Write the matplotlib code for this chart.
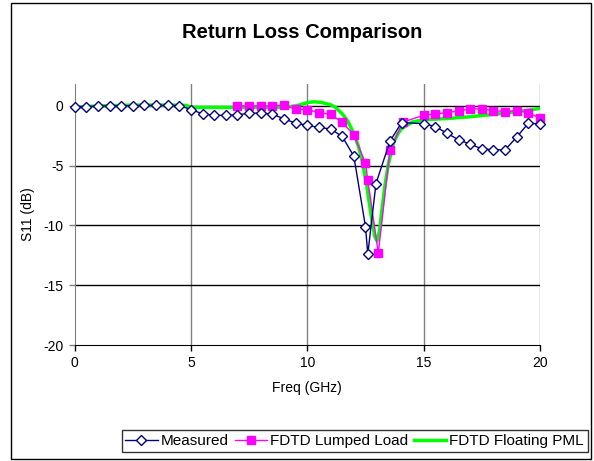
import matplotlib
matplotlib.use('Agg')
import matplotlib.pyplot as plt
from matplotlib.patches import Rectangle

plt.rcParams['font.family'] = ['Liberation Sans', 'DejaVu Sans']

# --- data ---
meas_freq = [0, 0.5, 1, 1.5, 2, 2.5, 3, 3.5, 4, 4.5, 5, 5.5, 6, 6.5, 7, 7.5, 8, 8.5,
             9, 9.5, 10, 10.5, 11, 11.5, 12, 12.5, 12.6, 12.95, 13.55, 14.05,
             15, 15.5, 16, 16.5, 17, 17.5, 18, 18.5, 19, 19.5, 20]
meas_s11 = [-0.05, -0.05, 0.0, 0.0, 0.02, 0.02, 0.05, 0.05, 0.05, 0.03, -0.3, -0.65, -0.78, -0.78,
            -0.75, -0.6, -0.6, -0.68, -1.08, -1.44, -1.62, -1.8, -1.92, -2.55, -4.2, -10.1, -12.4,
            -6.5, -2.95, -1.4, -1.47, -1.72, -2.28, -2.83, -3.2, -3.58, -3.67, -3.67, -2.6, -1.44, -1.5]

lumped_freq = [7, 7.5, 8, 8.5, 9, 9.5, 10, 10.5, 11, 11.5, 12, 12.5, 12.6, 13.05, 13.55, 14.1,
               15, 15.5, 16, 16.5, 17, 17.5, 18, 18.5, 19, 19.5, 20]
lumped_s11 = [0.0, 0.0, 0.0, 0.0, 0.08, -0.27, -0.3, -0.55, -0.7, -1.36, -2.42, -4.78, -6.2, -12.3,
              -3.72, -1.35, -0.78, -0.67, -0.55, -0.42, -0.25, -0.25, -0.39, -0.47, -0.39, -0.55, -1.03]

pml_freq = [0, 1, 2, 3, 4, 4.8, 5.0, 6, 7, 8, 9, 9.5, 10, 10.3, 10.6, 11, 11.2, 11.5, 11.75,
            12, 12.2, 12.35, 12.55, 12.77, 12.9, 13.0, 13.1, 13.2, 13.34, 13.48, 13.7, 13.9,
            14.05, 14.5, 15, 15.5, 16, 17, 18, 18.7, 19.5, 20]
pml_s11 = [-0.1, 0.0, 0.05, 0.08, 0.08, 0.05, -0.12, -0.12, -0.12, -0.12, -0.1, 0.0, 0.28, 0.35,
           0.3, 0.1, -0.1, -0.65, -1.3, -2.3, -3.4, -4.5, -6.6, -9.5, -10.9, -11.3, -10.5, -8.8,
           -6.6, -4.9, -3.1, -2.3, -1.9, -1.35, -1.15, -1.1, -1.05, -0.9, -0.7, -0.55, -0.35, -0.2]

x_ticks = [0, 5, 10, 15, 20]
y_ticks = [0, -5, -10, -15, -20]

# --- figure ---
fig = plt.figure(figsize=(5.94, 4.61), dpi=100)
ax = fig.add_axes([0.1256, 0.2516, 0.7835, 0.5662])

ax.plot(pml_freq, pml_s11, color='#00FF00', linewidth=2.5, label='FDTD Floating PML', zorder=3)
ax.plot(lumped_freq, lumped_s11, color='#FF00FF', linewidth=1, marker='s', markersize=6,
        markerfacecolor='#FF00FF', markeredgecolor='#FF00FF', label='FDTD Lumped Load',
        zorder=4, clip_on=False)
ax.plot(meas_freq, meas_s11, color='#000080', linewidth=1, marker='D', markersize=5.5,
        markerfacecolor='white', markeredgecolor='#000080', markeredgewidth=1,
        label='Measured', zorder=5, clip_on=False)

ax.set_xlim(0, 20)
ax.set_ylim(-20, 1.84)
ax.set_xticks(x_ticks)
ax.set_yticks(y_ticks)
ax.set_xticklabels([str(v) for v in x_ticks])
ax.set_yticklabels([str(v) for v in y_ticks])

# gridlines: vertical gray, horizontal black
for xv in x_ticks[1:]:
    ax.axvline(xv, color='#808080', linewidth=1, zorder=1)
for yv in y_ticks[:-1]:
    ax.axhline(yv, color='black', linewidth=1, zorder=1)

ax.spines['top'].set_visible(False)
ax.spines['right'].set_visible(False)
ax.spines['left'].set_color('#808080')
ax.spines['bottom'].set_color('black')
ax.tick_params(axis='both', direction='out', length=4, width=1, labelsize=10, pad=4)
ax.tick_params(axis='y', color='#808080')

ax.set_xlabel('Freq (GHz)', fontsize=10, labelpad=8)
ax.set_ylabel('S11 (dB)', fontsize=10, labelpad=6)
fig.text(0.509, 0.93, 'Return Loss Comparison', ha='center', va='center',
         fontsize=14.5, fontweight='bold')

# legend at the bottom, order like the reference
handles, labels = ax.get_legend_handles_labels()
order = [2, 1, 0]
leg = fig.legend([handles[i] for i in order], [labels[i] for i in order], ncol=3,
                 loc='center', bbox_to_anchor=(0.597, 0.043), fontsize=11, frameon=True,
                 fancybox=False, edgecolor='black', handlelength=2.1, handletextpad=0.2,
                 columnspacing=0.4, borderpad=0.25, borderaxespad=0)
leg.get_frame().set_linewidth(1)

# outer chart border
fig.patches.append(Rectangle((0.019, 0.004), 0.976, 0.99, transform=fig.transFigure,
                             fill=False, edgecolor='black', linewidth=1))

fig.savefig('out.png', dpi=100)
